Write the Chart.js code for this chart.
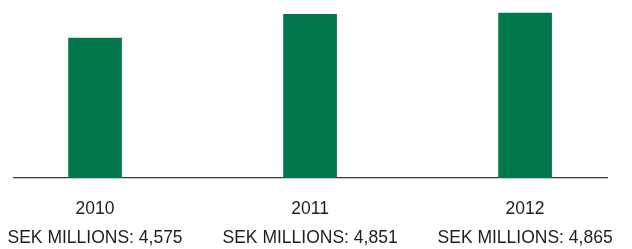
<!DOCTYPE html>
<html>
<head>
<meta charset="utf-8">
<script src="https://cdn.jsdelivr.net/npm/chart.js@4"></script>
<style>
  html, body { margin: 0; padding: 0; background: #fff; }
  #wrap { width: 632px; height: 249px; }
</style>
</head>
<body>
<div id="wrap"><canvas id="chart"></canvas></div>
<script>
const years = [2010, 2011, 2012];
const sekMillions = [4575, 4851, 4865];
const unitLabel = "SEK MILLIONS: ";

const barColor = "#00784b";

new Chart(document.getElementById("chart").getContext("2d"), {
    type: "bar",
    data: {
        datasets: [{
            data: years.map((y, i) => ({ x: y, y: sekMillions[i] })),
            backgroundColor: barColor,
            barThickness: 53,
            borderWidth: 0
        }]
    },
    options: {
        responsive: true, maintainAspectRatio: false, animation: false,
        layout: { padding: { left: 14, right: 25, top: 0, bottom: 0 } },
        plugins: { legend: { display: false }, tooltip: { enabled: false } },
        scales: {
            x: {
                type: "linear",
                offset: false,
                bounds: "data",
                min: 2009.623, max: 2012.381,
                grid: { display: false, drawTicks: false, offset: false },
                border: { display: true, color: "#3a3a3a", width: 1.2 },
                afterBuildTicks: s => { s.ticks = years.map(v => ({ value: v })); },
                afterFit: s => { s.height = 71; s.paddingLeft = 0; s.paddingRight = 0; },
                ticks: {
                    autoSkip: false, maxRotation: 0, padding: 17,
                    color: "#1e1e1e",
                    font: { family: "'Liberation Sans', Arial, sans-serif", size: 17.5, lineHeight: "29px" },
                    callback: v => {
                        const i = years.indexOf(v);
                        return i < 0 ? "" : [String(years[i]), unitLabel + sekMillions[i].toLocaleString("en-US")];
                    }
                }
            },
            y: { display: false, min: 2959, max: 5016 }
        }
    }
});
</script>
</body>
</html>
